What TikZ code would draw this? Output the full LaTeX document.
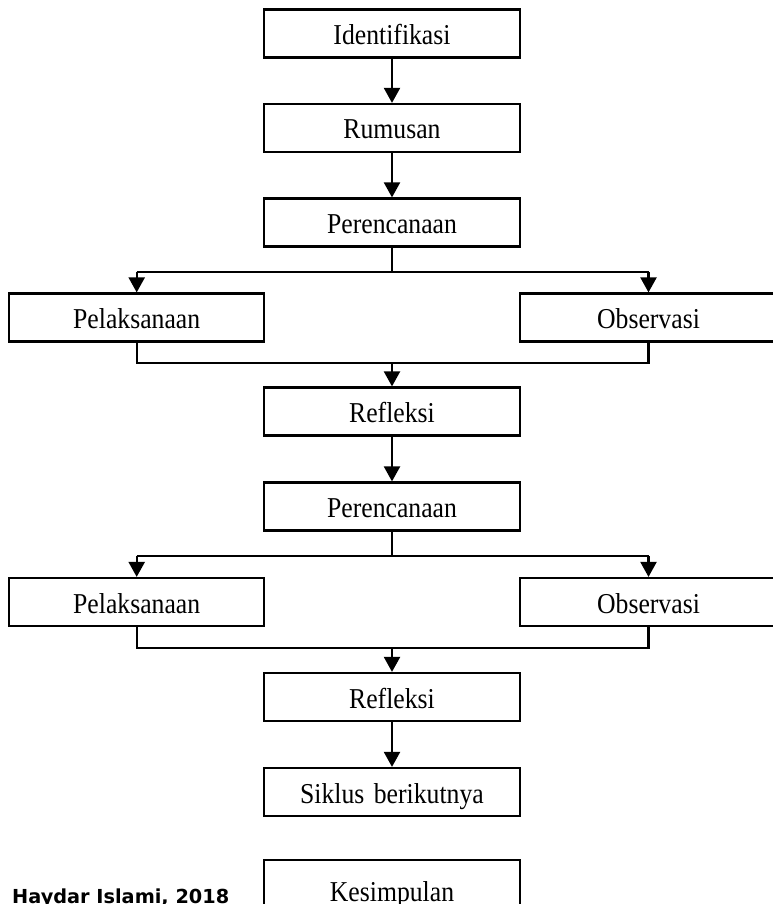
\documentclass[tikz,border=0pt]{standalone}
\usepackage{fontspec}
\usepackage{graphicx}
\usetikzlibrary{arrows.meta}
\newfontfamily\serifx{Liberation Serif}
\newfontfamily\sansx{DejaVu Sans}
\newcommand\lbl[1]{\scalebox{1}[1.12]{\fontsize{25.7}{30}\selectfont\serifx #1}}
\tikzset{
  box/.style={draw, line width=2.2pt, inner sep=0pt, minimum height=48pt, text height=22pt, text depth=0pt},
  cbox/.style={box, minimum width=256pt},
  sbox/.style={box, minimum width=255pt},
  obox/.style={box, minimum width=257pt},
  ln/.style={line width=2.2pt},
  arr/.style={line width=2.2pt, -{Triangle[length=15pt,width=16pt]}}
}
\begin{document}
\begin{tikzpicture}[x=1pt,y=-1pt]
\useasboundingbox (0,0) rectangle (772,904);
\node[cbox] (id) at (392,33.5) {\lbl{Identifikasi}};
\node[cbox] (rum) at (392,128) {\lbl{Rumusan}};
\node[cbox] (per1) at (392,222.5) {\lbl{Perencanaan}};
\node[sbox] (pel1) at (136.7,317.5) {\lbl{Pelaksanaan}};
\node[obox] (obs1) at (648.5,317.5) {\lbl{Observasi}};
\node[cbox] (ref1) at (392,411.5) {\lbl{Refleksi}};
\node[cbox] (per2) at (392,506.5) {\lbl{Perencanaan}};
\node[sbox] (pel2) at (136.7,602) {\lbl{Pelaksanaan}};
\node[obox] (obs2) at (648.5,602) {\lbl{Observasi}};
\node[cbox] (ref2) at (392,697) {\lbl{Refleksi}};
\node[cbox] (sik) at (392,792) {\lbl{Siklus\hspace{3pt} berikutnya}};
\node[cbox, minimum height=60pt] (kes) at (392,890) {\lbl{Kesimpulan}};
\node[anchor=base west, inner sep=0pt, font=\fontsize{19.3}{23}\selectfont\sansx\bfseries] (src) at (12,903) {Haydar Islami, 2018};

\coordinate (b1) at (392,272);
\coordinate (j1) at (392,363);
\coordinate (b2) at (392,556);
\coordinate (j2) at (392,648);

\draw[arr] (id) -- (rum);
\draw[arr] (rum) -- (per1);
\draw[ln] (per1.south) -- (b1);
\draw[ln] (pel1.north |- b1) -- (obs1.north |- b1);
\draw[arr] (pel1.north |- b1) -- (pel1.north);
\draw[arr] (obs1.north |- b1) -- (obs1.north);
\draw[ln] (pel1.south) |- (j1) -| (obs1.south);
\draw[arr] (j1) -- (ref1.north);
\draw[arr] (ref1) -- (per2);
\draw[ln] (per2.south) -- (b2);
\draw[ln] (pel2.north |- b2) -- (obs2.north |- b2);
\draw[arr] (pel2.north |- b2) -- (pel2.north);
\draw[arr] (obs2.north |- b2) -- (obs2.north);
\draw[ln] (pel2.south) |- (j2) -| (obs2.south);
\draw[arr] (j2) -- (ref2.north);
\draw[arr] (ref2) -- (sik);
\end{tikzpicture}
\end{document}
